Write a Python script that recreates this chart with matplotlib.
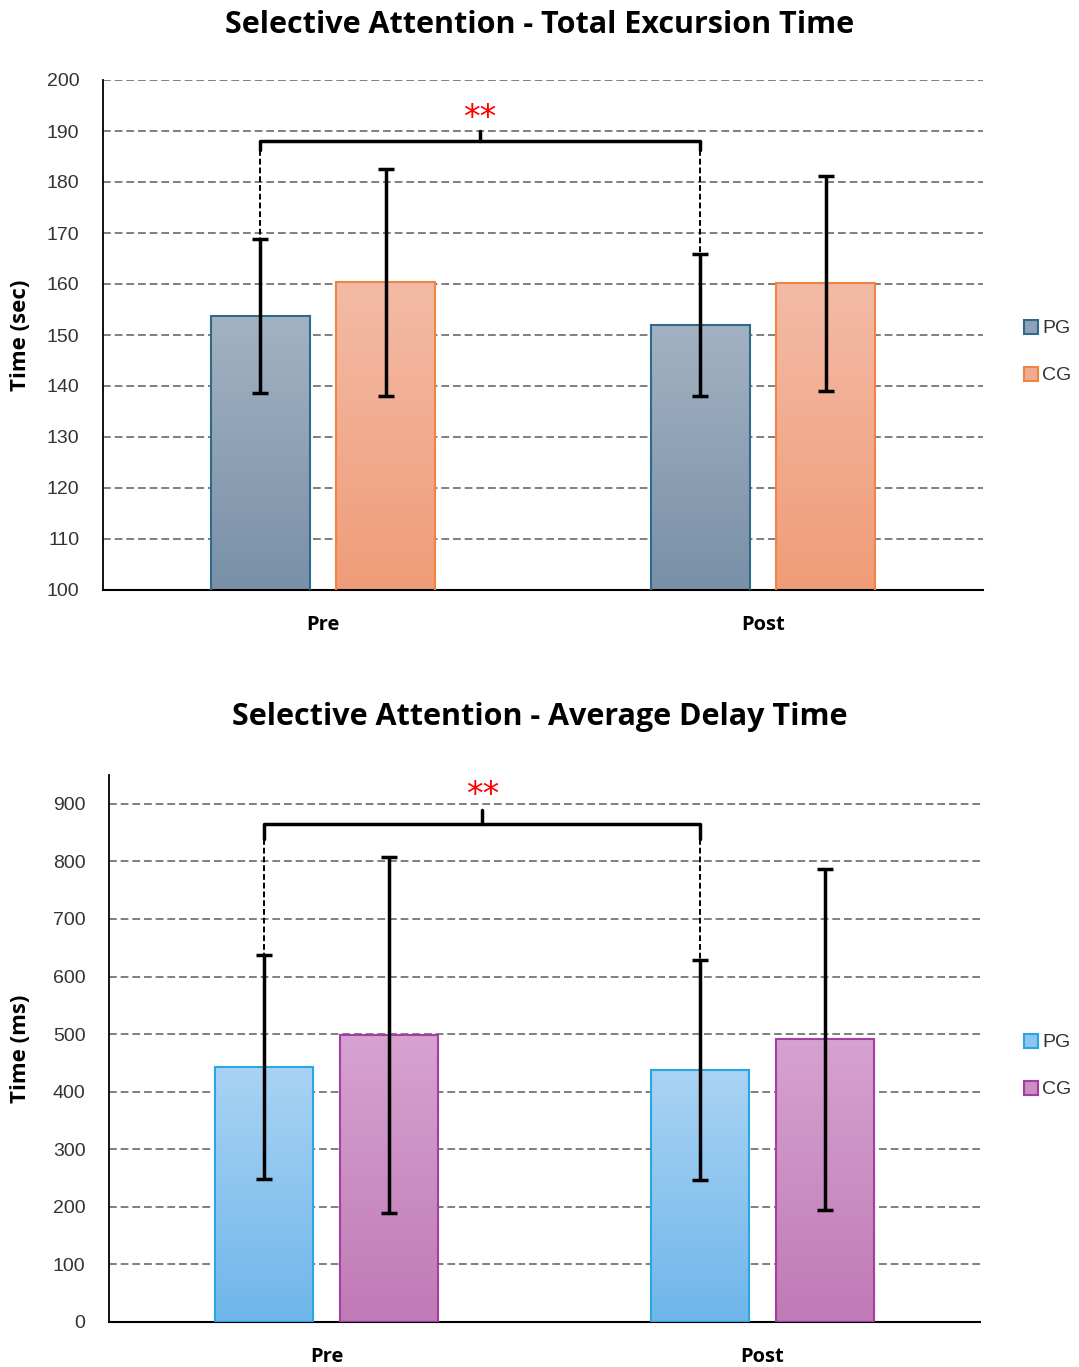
import numpy as np
import matplotlib
matplotlib.use("Agg")
import matplotlib.pyplot as plt
from matplotlib.colors import LinearSegmentedColormap
from matplotlib.patches import Patch

# data
groups = ["Pre", "Post"]
series = ["PG", "CG"]

exc_pg = [153.7, 152.0]
exc_pg_sd = [15.1, 13.9]
exc_cg = [160.3, 160.1]
exc_cg_sd = [22.2, 21.1]

delay_pg = [443, 438]
delay_pg_sd = [194, 191]
delay_cg = [498, 491]
delay_cg_sd = [309, 296]

W, H = 1079, 1367
fig = plt.figure(figsize=(W / 100, H / 100), dpi=100)

title_font = "Open Sans"
tick_font = "Liberation Sans"


def gradient_bars(ax, bars, top_col, bot_col):
    cmap = LinearSegmentedColormap.from_list("g", [bot_col, top_col])
    ylo = ax.get_ylim()[0]
    for b in bars:
        x0, y0 = b.get_xy()
        w, h = b.get_width(), b.get_height()
        lo = max(y0, ylo)
        grad = np.linspace(0, 1, 256).reshape(-1, 1)
        im = ax.imshow(grad, extent=[x0, x0 + w, lo, y0 + h], origin="lower",
                       aspect="auto", cmap=cmap, zorder=2.5)
        im.set_clip_path(b)


def make_panel(rect, title, title_y, ylabel, ylim, yticks, pg, pg_sd, cg, cg_sd,
               colors, bracket, legend_y):
    ax = fig.add_axes(rect)
    x = np.arange(len(groups))
    off = 0.143
    bw = 0.225
    ax.set_xlim(-0.5, 1.5)
    ax.set_ylim(*ylim)

    b1 = ax.bar(x - off, pg, bw, facecolor="none", edgecolor=colors["pg_edge"],
                linewidth=1.5, zorder=3)
    b2 = ax.bar(x + off, cg, bw, facecolor="none", edgecolor=colors["cg_edge"],
                linewidth=1.5, zorder=3)
    gradient_bars(ax, b1, colors["pg_top"], colors["pg_bot"])
    gradient_bars(ax, b2, colors["cg_top"], colors["cg_bot"])
    ax.set_xlim(-0.5, 1.5)
    ax.set_ylim(*ylim)

    ax.errorbar(x - off, pg, yerr=pg_sd, fmt="none", ecolor="black",
                elinewidth=2.5, capsize=6, capthick=2.5, zorder=4)
    ax.errorbar(x + off, cg, yerr=cg_sd, fmt="none", ecolor="black",
                elinewidth=2.5, capsize=6, capthick=2.5, zorder=4)

    # grid
    ax.set_yticks(yticks)
    for t in yticks:
        if t == ylim[0]:
            continue
        ax.axhline(t, color="#7f7f7f", lw=1.4, ls=(0, (4, 2)), zorder=1)

    for s in ["top", "right"]:
        ax.spines[s].set_visible(False)
    ax.spines["left"].set_linewidth(1.3)
    ax.spines["bottom"].set_linewidth(1.5)
    ax.tick_params(length=0)
    ax.tick_params(axis="y", pad=17)
    for lab in ax.get_yticklabels():
        lab.set_fontfamily(tick_font)
        lab.set_fontsize(14)
        lab.set_color("#333333")
    ax.set_xticks(x)
    ax.set_xticklabels(groups, fontfamily=title_font, fontweight="bold",
                       fontsize=14.5)
    ax.tick_params(axis="x", pad=18)
    ax.set_ylabel(ylabel, fontfamily=title_font, fontweight="bold", fontsize=16,
                  va="center")
    ax.yaxis.set_label_coords(-(rect[0] * W - 21) / (rect[2] * W), 0.5)
    fig.text(0.5, 1 - title_y / H, title, fontfamily=title_font,
             fontweight="bold", fontsize=22, ha="center", va="center")

    # significance bracket between PG pre and PG post
    by, drop, tick_top, star_y = bracket
    xl, xr = x[0] - off, x[1] - off
    xm = (xl + xr) / 2
    ax.plot([xl, xl, xr, xr], [drop, by, by, drop], color="black", lw=2.5,
            solid_joinstyle="round", solid_capstyle="round", zorder=5)
    ax.plot([xm, xm], [by, tick_top], color="black", lw=2.5,
            solid_capstyle="round", zorder=5)
    ax.plot([xl, xl], [drop, pg[0] + pg_sd[0]], color="black", lw=1.4,
            ls=(0, (3, 1.5)), zorder=5)
    ax.plot([xr, xr], [drop, pg[1] + pg_sd[1]], color="black", lw=1.4,
            ls=(0, (3, 1.5)), zorder=5)
    ax.text(xm, star_y, "**", color="red", fontsize=24, ha="center",
            va="center", fontfamily="DejaVu Sans")

    handles = [Patch(facecolor=colors["pg_mid"], edgecolor=colors["pg_edge"],
                     lw=1.5, label=series[0]),
               Patch(facecolor=colors["cg_mid"], edgecolor=colors["cg_edge"],
                     lw=1.5, label=series[1])]
    fig.legend(handles=handles, loc="center left",
               bbox_to_anchor=(1006 / W, 1 - legend_y / H), frameon=False,
               handlelength=0.75, handleheight=0.75, handletextpad=0.2,
               labelspacing=1.5, prop={"family": tick_font, "size": 14},
               labelcolor="#333333")
    return ax


make_panel([103 / W, 1 - 590 / H, 880 / W, 510 / H],
           "Selective Attention - Total Excursion Time", 25, "Time (sec)",
           (100, 200), np.arange(100, 201, 10),
           exc_pg, exc_pg_sd, exc_cg, exc_cg_sd,
           {"pg_top": "#a3b2c2", "pg_bot": "#7990a8", "pg_mid": "#8ea1b5",
            "pg_edge": "#2d6a8e",
            "cg_top": "#f3bba6", "cg_bot": "#f09c78", "cg_mid": "#f1ab8f",
            "cg_edge": "#ef8444"},
           (188, 186.2, 190, 192.4), 352)

make_panel([109 / W, 1 - 1322 / H, 871 / W, 547 / H],
           "Selective Attention - Average Delay Time", 717, "Time (ms)",
           (0, 950), np.arange(0, 901, 100),
           delay_pg, delay_pg_sd, delay_cg, delay_cg_sd,
           {"pg_top": "#a9d3f4", "pg_bot": "#6fb6ea", "pg_mid": "#8cc5ef",
            "pg_edge": "#2aa7e0",
            "cg_top": "#d6a2d0", "cg_bot": "#c07ab6", "cg_mid": "#cb8ec3",
            "cg_edge": "#a43ea2"},
           (865, 838, 889, 914), 1066)

fig.savefig("out.png", dpi=100)
